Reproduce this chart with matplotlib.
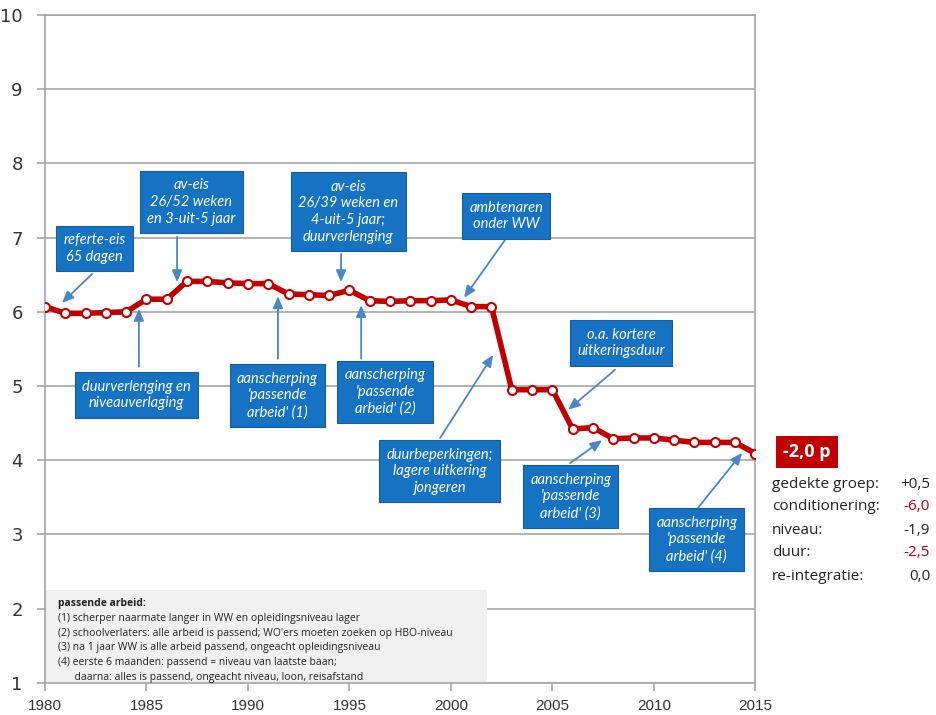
import matplotlib
matplotlib.use("Agg")
import matplotlib.pyplot as plt
from matplotlib.patches import Rectangle

years = list(range(1980, 2016))
index = [6.07, 5.98, 5.98, 5.99, 6.00, 6.17, 6.17, 6.41, 6.41, 6.39,
         6.38, 6.38, 6.24, 6.23, 6.22, 6.29, 6.15, 6.14, 6.15, 6.15,
         6.16, 6.07, 6.07, 4.95, 4.95, 4.95, 4.42, 4.44, 4.29, 4.30,
         4.30, 4.27, 4.24, 4.24, 4.24, 4.09]

# labels: (text, box centre, arrow tail, arrow head)
notes = [
    ("referte-eis\n65 dagen", (1982.46, 6.85), (1982.32, 6.51), (1980.84, 6.12)),
    ("av-eis\n26/52 weken\nen 3-uit-5 jaar", (1987.22, 7.48), (1986.51, 7.01), (1986.51, 6.40)),
    ("av-eis\n26/39 weken en\n4-uit-5 jaar;\nduurverlenging", (1994.94, 7.35), (1994.59, 6.78), (1994.59, 6.40)),
    ("ambtenaren\nonder WW", (2002.72, 7.29), (2002.67, 6.97), (2000.65, 6.19)),
    ("duurverlenging en\nniveauverlaging", (1984.51, 4.88), (1984.63, 5.26), (1984.63, 6.04)),
    ("aanscherping\n'passende\narbeid' (1)", (1991.46, 4.87), (1991.48, 5.37), (1991.48, 6.21)),
    ("aanscherping\n'passende\narbeid' (2)", (1996.76, 4.92), (1995.58, 5.37), (1995.58, 6.09)),
    ("duurbeperkingen;\nlagere uitkering\njongeren", (1999.44, 3.85), (1999.47, 4.30), (2002.08, 5.42)),
    ("o.a. kortere\nuitkeringsduur", (2008.39, 5.58), (2008.09, 5.22), (2005.78, 4.68)),
    ("aanscherping\n'passende\narbeid' (3)", (2005.90, 3.51), (2005.87, 3.96), (2007.45, 4.27)),
    ("aanscherping\n'passende\narbeid' (4)", (2012.11, 2.93), (2012.18, 3.36), (2014.35, 4.10)),
]

legend_title = "passende arbeid:"
legend_lines = [
    "(1) scherper naarmate langer in WW en opleidingsniveau lager",
    "(2) schoolverlaters: alle arbeid is passend; WO'ers moeten zoeken op HBO-niveau",
    "(3) na 1 jaar WW is alle arbeid passend, ongeacht opleidingsniveau",
    "(4) eerste 6 maanden: passend = niveau van laatste baan;",
    "      daarna: alles is passend, ongeacht niveau, loon, reisafstand",
]

total_label = "-2,0 p"
parts = ["gedekte groep:", "conditionering:", "niveau:", "duur:", "re-integratie:"]
part_values = ["+0,5", "-6,0", "-1,9", "-2,5", "0,0"]
part_colors = ["#222222", "#c00000", "#222222", "#c00000", "#222222"]

RED = "#c00000"
BLUE = "#1672c2"
ARROW = "#4a86c5"
GRID = "#a6a6a6"

fig = plt.figure(figsize=(9.36, 7.15), dpi=100)
ax = fig.add_axes([0.048, 0.045, 0.759, 0.934])

ax.set_xlim(1980, 2015)
ax.set_ylim(1, 10)
ax.set_xticks(range(1980, 2016, 5))
ax.set_yticks(range(1, 11))
ax.grid(axis="y", color=GRID, lw=1.2, zorder=0)
for s in ax.spines.values():
    s.set_color(GRID)
    s.set_linewidth(1.2)
ax.tick_params(axis="both", color=GRID, length=6, width=1.2, direction="out")
ax.tick_params(axis="y", labelsize=13, pad=10, labelcolor="#333333")
ax.tick_params(axis="x", labelsize=11, pad=6, labelcolor="#333333")
for lab in ax.get_xticklabels():
    lab.set_family(["Liberation Sans Narrow", "Liberation Sans"])
for lab in ax.get_yticklabels():
    lab.set_family(["DejaVu Sans"])

ax.plot(years, index, color=RED, lw=4, marker="o", ms=6.5,
        mfc="white", mec=RED, mew=1.5, zorder=5)

for text, centre, tail, head in notes:
    ax.annotate("", xy=head, xytext=tail,
                arrowprops=dict(arrowstyle="-|>,head_length=0.7,head_width=0.3",
                                color=ARROW, lw=1.3, shrinkA=0, shrinkB=0),
                zorder=4)
    ax.text(centre[0], centre[1], text, ha="center", va="center",
            color="white", style="italic", fontsize=10.5, family="Lato",
            linespacing=1.25, zorder=6,
            bbox=dict(boxstyle="square,pad=0.5", fc=BLUE, ec="#1a5c96", lw=0.8))

# explanation box at the bottom left
ax.add_patch(Rectangle((1980, 1), 21.78, 1.25, fc="#f0f0f0", ec="none", zorder=2))
ax.text(1980.64, 2.075, legend_title, fontsize=7.5, fontweight="bold",
        va="center", color="#222222", family="Open Sans", zorder=3)
for i, line in enumerate(legend_lines):
    ax.text(1980.64, 1.87 - i * 0.2, line, fontsize=7.5, va="center",
            color="#222222", family="Open Sans", zorder=3)

# decomposition panel on the right
fig.text(807 / 936, 1 - 452 / 715, total_label, fontsize=13, fontweight="bold",
         color="white", va="center", ha="center", family="Open Sans",
         bbox=dict(boxstyle="square,pad=0.4", fc=RED, ec="none"))
for i, (name, val, col) in enumerate(zip(parts, part_values, part_colors)):
    y = 1 - (484 + i * 23) / 715
    fig.text(772 / 936, y, name, fontsize=11, va="center", color="#222222",
             family="Open Sans")
    fig.text(930 / 936, y, val, fontsize=11, va="center", ha="right",
             color=col, family="Open Sans")

fig.savefig("out.png", dpi=100)
